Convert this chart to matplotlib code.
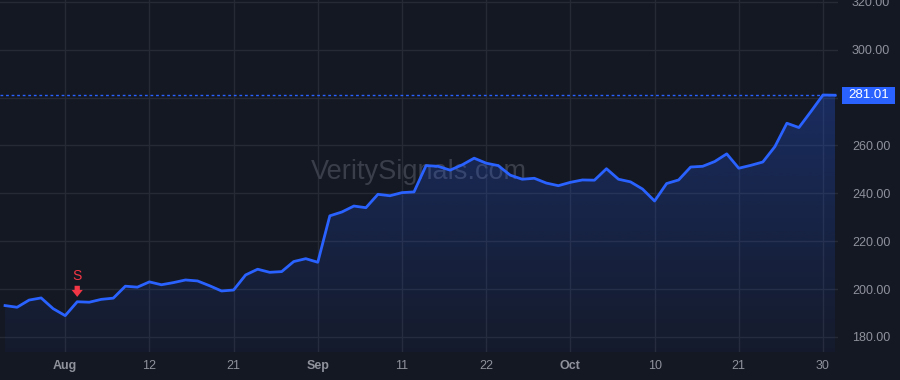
import matplotlib.pyplot as plt
import numpy as np
from matplotlib.patches import Polygon, Rectangle
from matplotlib.transforms import blended_transform_factory

plt.rcParams['font.family'] = ['Liberation Sans', 'DejaVu Sans']

# closing values, one per bar
prices = [193.1, 192.4, 195.4, 196.3, 191.8, 188.9, 194.7, 194.5, 195.7, 196.2,
          201.2, 200.8, 203.0, 201.8, 202.7, 203.8, 203.4, 201.4, 199.2, 199.6,
          205.9, 208.3, 207.0, 207.3, 211.5, 212.7, 211.2, 230.6, 232.2, 234.7,
          234.0, 239.6, 239.0, 240.3, 240.6, 251.6, 251.3, 249.7, 251.9, 254.7,
          252.6, 251.6, 247.6, 245.9, 246.3, 244.3, 243.2, 244.6, 245.6, 245.5,
          250.3, 245.9, 244.8, 241.8, 236.8, 244.1, 245.6, 251.0, 251.3, 253.3,
          256.5, 250.5, 251.7, 253.1, 259.5, 269.3, 267.5, 274.2, 281.1, 281.01]
tick_pos = [5, 12, 19, 26, 33, 40, 47, 54, 61, 68]
tick_labels = ['Aug', '12', '21', 'Sep', '11', '22', 'Oct', '10', '21', '30']
bold_labels = ['Aug', 'Sep', 'Oct']
y_ticks = [180, 200, 220, 240, 260, 280, 300, 320]
signal_idx = 6
last_price = 281.01

bg = '#141823'
grid_c = '#262a35'
line_c = '#2962ff'
text_c = '#8f929b'

x = np.arange(len(prices))
y = np.array(prices)

fig = plt.figure(figsize=(9, 3.8), dpi=100, facecolor=bg)
ax = fig.add_axes([0, 28 / 380, 838 / 900, 1 - 28 / 380])
ax.set_facecolor(bg)
ax.set_xlim(-0.42, 69.25)
ax.set_ylim(173.7, 320.8)

# grid
for t in tick_pos:
    ax.axvline(t, color=grid_c, lw=1, zorder=0)
for t in y_ticks:
    ax.axhline(t, color=grid_c, lw=1, zorder=0)

# watermark
ax.text(0.5, 0.51, 'VeritySignals.com', transform=ax.transAxes, ha='center', va='center',
        fontsize=19.5, color='#3a3e4a', zorder=1)

# gradient area under line
ymin = 173.7
grad = np.linspace(0, 1, 256).reshape(-1, 1)
rgba = np.zeros((256, 1, 4))
rgba[..., 0] = 0x29 / 255
rgba[..., 1] = 0x62 / 255
rgba[..., 2] = 1.0
rgba[..., 3] = (0.04 + 0.24 * grad)[:, 0:1]
im = ax.imshow(rgba, extent=[x[0], x[-1], ymin, y.max()], origin='lower',
               aspect='auto', zorder=2)
poly = Polygon(np.vstack([[x[0], ymin], np.column_stack([x, y]), [x[-1], ymin]]),
               closed=True, facecolor='none', edgecolor='none')
ax.add_patch(poly)
im.set_clip_path(poly)

ax.plot(x, y, color=line_c, lw=2, zorder=3, solid_joinstyle='round')

# last price line + label (covers the 280 tick label like in the original)
ax.axhline(last_price, color=line_c, lw=1, ls=(0, (2, 2)), zorder=2)
trans = blended_transform_factory(fig.transFigure, ax.transData)
box_h = 17 / 2.3925  # 17 px in price units
ax.add_patch(Rectangle((842 / 900, last_price - box_h / 2), 53 / 900, box_h,
                       transform=trans, facecolor=line_c, edgecolor='none',
                       clip_on=False, zorder=9))
ax.text(868.5 / 900, last_price, f'{last_price:.2f}', transform=trans,
        ha='center', va='center', fontsize=9.5, color='white', clip_on=False, zorder=10)

# signal marker
sx, sy = x[signal_idx], y[signal_idx]
ax.annotate('', xy=(sx, sy), xytext=(0, 11.5), textcoords='offset points',
            xycoords='data',
            arrowprops=dict(arrowstyle='simple,head_width=0.8,head_length=0.5,tail_width=0.38',
                            mutation_scale=10, color='#f23645', lw=0, shrinkA=0, shrinkB=3.5))
ax.annotate('S', xy=(sx, sy), xytext=(0, 13.5), textcoords='offset points',
            ha='center', va='bottom', fontsize=10, color='#f23645')

# axes
for s in ax.spines.values():
    s.set_visible(False)
ax.set_xticks(tick_pos)
ax.set_xticklabels(tick_labels)
ax.tick_params(axis='x', length=0, pad=6, colors=text_c, labelsize=9)
for lab in ax.get_xticklabels():
    if lab.get_text() in bold_labels:
        lab.set_fontweight('bold')
ax.yaxis.tick_right()
ax.set_yticks(y_ticks)
ax.set_yticklabels(['' if v == 280 else f'{v:.2f}' for v in y_ticks])
ax.tick_params(axis='y', length=0, pad=10, colors=text_c, labelsize=9)

fig.savefig('out.png', dpi=100, facecolor=bg)
